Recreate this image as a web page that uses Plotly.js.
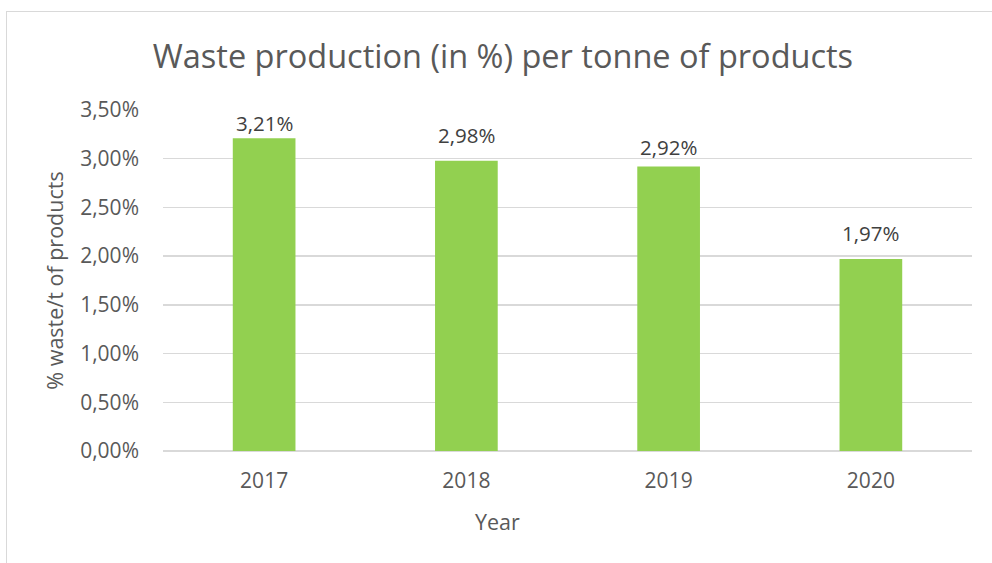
<!DOCTYPE html>
<html>
<head>
<meta charset="utf-8">
<script src="https://cdn.plot.ly/plotly-3.0.1.min.js"></script>
<style>
html,body{margin:0;padding:0;background:#fff;overflow:hidden;}
#chart{position:absolute;left:0;top:0;width:992px;height:563px;}
#frame{position:absolute;left:6px;top:11px;width:1100px;height:700px;border:1px solid #d9d9d9;pointer-events:none;}
</style>
</head>
<body>
<div id="chart"></div>
<div id="frame"></div>
<script>
const years = ["2017", "2018", "2019", "2020"];
const wasteShare = [0.0321, 0.0298, 0.0292, 0.0197];
const yTicks = [0, 0.005, 0.01, 0.015, 0.02, 0.025, 0.03, 0.035];

const font = "'Open Sans', sans-serif";
// vertical lift (px) of each data label above its bar, as placed in the original
const labelLift = [15, 25.5, 20, 26.5];

const trace = {
  type: "bar",
  x: years,
  y: wasteShare,
  marker: {color: "#92D050"},
  hoverinfo: "none"
};

const labelAnnotations = years.map((yr, i) => ({
  x: i, y: wasteShare[i], xref: "x", yref: "y",
  text: (wasteShare[i] * 100).toFixed(2).replace(".", ",") + "%",
  showarrow: false, yanchor: "middle", xanchor: "center",
  yshift: labelLift[i],
  font: {family: font, size: 20.5, color: "#404040"}
}));

const layout = {
  width: 992, height: 563,
  margin: {l: 163, r: 20, t: 110, b: 112},
  paper_bgcolor: "#fff", plot_bgcolor: "#fff",
  separators: ",.",
  bargap: 0.69,
  showlegend: false,
  font: {family: font, color: "#595959"},
  title: {
    text: "Waste production (in %) per tonne of products",
    font: {family: font, size: 32.5, color: "#595959"},
    x: 0.507, xanchor: "center", y: 0.9, yanchor: "middle"
  },
  xaxis: {
    type: "category",
    categoryorder: "array", categoryarray: years,
    range: [-0.5, years.length - 0.5],
    tickfont: {family: font, size: 21, color: "#595959"},
    showgrid: false, zeroline: false, showline: false, ticks: "",
    ticklabelstandoff: 15
  },
  yaxis: {
    range: [0, 0.035],
    tickvals: yTicks,
    tickformat: ".2%",
    tickfont: {family: font, size: 21, color: "#595959"},
    gridcolor: "#d9d9d9", gridwidth: 1.5,
    zeroline: true, zerolinecolor: "#d9d9d9", zerolinewidth: 1.5,
    showline: false, ticks: "", ticklabelstandoff: 23,
    title: {text: "% waste/t of products", font: {family: font, size: 21.5, color: "#595959"}, standoff: 10}
  },
  annotations: labelAnnotations.concat([{
    text: "Year", xref: "paper", yref: "paper", x: 0.413, y: 0,
    xanchor: "center", yanchor: "middle", yshift: -70, showarrow: false,
    font: {family: font, size: 21.5, color: "#595959"}
  }])
};

Plotly.newPlot("chart", [trace], layout, {displayModeBar: false, staticPlot: true});
</script>
</body>
</html>
